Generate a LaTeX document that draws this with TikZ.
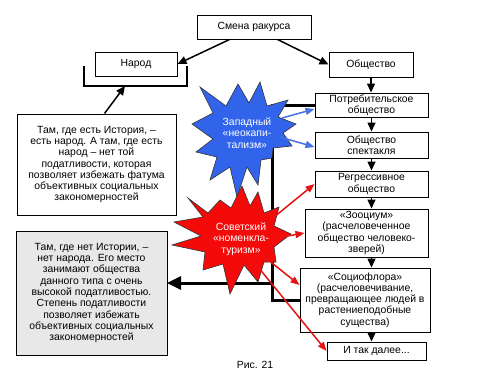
\documentclass[tikz,border=0pt]{standalone}
\usepackage{fontspec}
\setmainfont{Liberation Sans}
\usetikzlibrary{arrows.meta,calc}
\definecolor{starblue}{RGB}{50,100,235}
\definecolor{arrblue}{RGB}{70,115,225}
\definecolor{starred}{RGB}{245,10,10}
\definecolor{arrred}{RGB}{230,20,20}
\definecolor{graybg}{RGB}{232,232,232}
\begin{document}
\begin{tikzpicture}[x=1pt,y=-1pt,
  box/.style={draw,fill=white,line width=1pt,inner sep=0pt,align=center,font=\fontsize{10.4}{11.3}\selectfont},
  blk/.style={-{Triangle[length=9pt,width=8pt]},line width=1.5pt},
  heavy/.style={line width=3pt},
  barr/.style={-{Triangle[length=9pt,width=7pt]},line width=1.5pt,draw=arrblue,fill=arrblue},
  rarr/.style={-{Triangle[length=9pt,width=7pt]},line width=1.5pt,draw=arrred,fill=arrred},
  startext/.style={text=white,align=center,font=\fontsize{10.4}{11.5}\selectfont},
  starline/.style={draw=black!80,line width=0.6pt}
]
\useasboundingbox[fill=white] (0,0) rectangle (500,375);

% boxes
\node[box,minimum width=114,minimum height=24] (smena) at (254,27) {Смена ракурса};
\node[box,minimum width=82,minimum height=24] (narod) at (136,64) {Народ};
\node[box,minimum width=84,minimum height=25] (obsh) at (371,64.5) {Общество};
\node[box,minimum width=113,minimum height=24] (potr) at (371.5,105) {Потребительское\\общество};
\node[box,minimum width=113,minimum height=26] (spekt) at (371.5,145) {Общество\\спектакля};
\node[box,minimum width=113,minimum height=26] (regr) at (371.5,184) {Регрессивное\\общество};
\node[box,minimum width=123,minimum height=48] (zoo) at (366.5,233) {«Зооциум»\\(расчеловеченное\\общество человеко-\\зверей)};
\node[box,minimum width=130,minimum height=64] (socio) at (365,300) {«Социофлора»\\(расчеловечивание,\\превращающее людей в\\растениеподобные\\существа)};
\node[box,minimum width=99,minimum height=18] (itak) at (376.5,351) {И так далее...};
\node[box,minimum width=159,minimum height=101] (txt1) at (96.5,164.5) {Там, где есть История, –\\есть народ. А там, где есть\\народ – нет той\\податливости, которая\\позволяет избежать фатума\\объективных социальных\\закономерностей};
\node[box,fill=graybg,minimum width=151,minimum height=124] (txt2) at (91.5,293) {Там, где нет Истории, –\\нет народа. Его место\\занимают общества\\данного типа с очень\\высокой податливостью.\\Степень податливости\\позволяет избежать\\объективных социальных\\закономерностей};
\node[font=\fontsize{10.4}{12}\selectfont,inner sep=0pt] (fig) at (255,365) {Рис. 21};

% top arrows
\draw[blk] ($(smena.south west)+(33,0)$) -- (narod.east);
\draw[blk] ($(smena.south west)+(81,0)$) -- (obsh.west);
\draw[blk] (obsh.south) -- (obsh.south |- potr.north);
\draw[blk] (potr.south) -- (spekt.north);
\draw[blk] (spekt.south) -- (regr.north);
\draw[blk] (regr.south) -- (regr.south |- zoo.north);
\draw[blk] (regr.south |- zoo.south) -- (regr.south |- socio.north);
\draw[blk] (regr.south |- socio.south) -- (regr.south |- itak.north);

% bracket under Народ
\coordinate (bl) at (84,66);
\coordinate (br) at (187,66);
\coordinate (bm) at (125,86);
\draw[line width=2pt] (bl) |- (br |- bm) -- (br);
\draw[blk] ($(txt1.north west)+(88,0)$) -- (bm);

% thick bracket on the right
\coordinate (vt) at (272,105);
\coordinate (vb) at (272,300);
\coordinate (vx) at (272,283);
\coordinate (vl) at (167,283);
\draw[heavy] (potr.west) -- (vt) -- (vb) -- (socio.west);
\draw[heavy,-{Triangle[length=14pt,width=13pt]}] (vx) -- (vl);

% blue star
\draw[starline,fill=starblue]
  (200,87) -- (226,106) -- (238,84) -- (249,103) -- (260,82) -- (267,106) -- (288,100) -- (278,117)
  -- (296,124) -- (283,133) -- (292,146) -- (273,148) -- (272,158) -- (261,160) -- (258,185) -- (247,167)
  -- (237,197) -- (230,167) -- (210,180) -- (217,157) -- (196,152) -- (213,139) -- (192,124) -- (213,113) -- cycle;
% red star
\draw[starline,fill=starred]
  (188,198) -- (208,213) -- (220,200) -- (231,208) -- (242,186) -- (250,206) -- (258,192) -- (264,213)
  -- (279,207) -- (274,226) -- (291,234) -- (274,247) -- (276,262) -- (264,262) -- (258,282) -- (244,265)
  -- (230,294) -- (223,264) -- (203,270) -- (205,252) -- (172,245) -- (201,236) -- (174,222) -- (203,217) -- cycle;

\node[startext] (west) at (247,133) {Западный\\«неокапи-\\тализм»};
\node[startext] (sov) at (241,239) {Советский\\«номенкла-\\туризм»};

% blue arrows
\draw[barr] (282,118) -- ([yshift=-4pt]potr.west);
\draw[barr] (280,137) -- ([yshift=-2pt]spekt.west);
% red arrows
\draw[rarr] (268,222) -- (regr.west);
\draw[rarr] (276,238) -- (zoo.west);
\draw[rarr] (262,255) -- ([yshift=15pt]socio.west);
\draw[rarr] (254,262) -- (itak.west);
\end{tikzpicture}
\end{document}
